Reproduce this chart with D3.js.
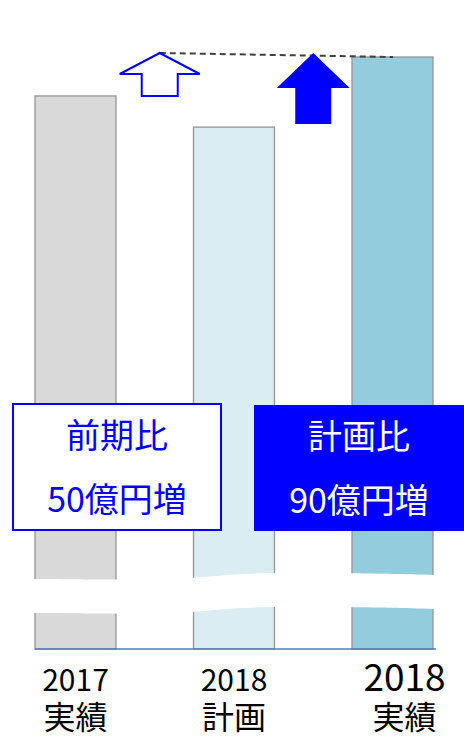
<!DOCTYPE html>
<html>
<head>
<meta charset="utf-8">
<script src="https://cdn.jsdelivr.net/npm/d3@7"></script>
<style>
  body { margin: 0; background: #fff; }
  svg { display: block; font-family: "Noto Sans CJK JP", "Noto Sans", sans-serif; }
</style>
</head>
<body>
<div id="chart"></div>
<script>
// values in 億円
const years = ['2017', '2018', '2018'];
const kinds = ['実績', '計画', '実績'];
const values = [710, 670, 760];
const barColors = ['#d9d9d9', '#daedf3', '#93cddd'];
const notes = [['前期比', '50億円増'], ['計画比', '90億円増']];
const breakValue = 90;

const width = 464, height = 738;
const margin = {top: 57, right: 31, bottom: 89, left: 35};

const svg = d3.select('#chart')
    .append('svg')
    .attr('width', width)
    .attr('height', height);

const x = d3.scaleBand()
    .domain(d3.range(values.length))
    .range([margin.left, width - margin.right])
    .paddingInner(0.489)
    .paddingOuter(0);

const y = d3.scaleLinear()
    .domain([0, d3.max(values)])
    .range([height - margin.bottom, margin.top]);

// bars
svg.selectAll('.bar')
    .data(values)
    .enter()
    .append('rect')
    .attr('class', 'bar')
    .attr('x', (d, i) => x(i))
    .attr('y', d => y(d))
    .attr('width', x.bandwidth())
    .attr('height', d => y(0) - y(d))
    .attr('fill', (d, i) => barColors[i])
    .attr('stroke', '#949494')
    .attr('stroke-width', 1.3);

// wavy axis break
const x0 = x(0) - 2, x1 = x(2) + x.bandwidth() + 3;
const by = y(breakValue);
const wave = [[x0, by], [x(0) + x.bandwidth(), by + 1], [x(1), by], [x(1) + 40, by - 5], [x(1) + x.bandwidth(), by - 6], [x(2), by - 6], [x1, by - 4]];
const waveLine = d3.line().curve(d3.curveBasis);
const waveTop = waveLine(wave);
const waveBottom = waveLine(wave.map(p => [p[0], p[1] + 34]).reverse());
svg.append('path')
    .attr('d', waveTop + 'L' + waveBottom.slice(1) + 'Z')
    .attr('fill', '#fff');

// baseline
svg.append('line')
    .attr('x1', x(0))
    .attr('x2', x(2) + x.bandwidth() + 3)
    .attr('y1', y(0))
    .attr('y2', y(0))
    .attr('stroke', '#4a7ebb')
    .attr('stroke-width', 1.5);

// arrows
function arrowPath(cx, yFrom, yTo, headW, headH, shaftW) {
    return d3.line()([
        [cx, yTo],
        [cx + headW / 2, yTo + headH],
        [cx + shaftW / 2, yTo + headH],
        [cx + shaftW / 2, yFrom],
        [cx - shaftW / 2, yFrom],
        [cx - shaftW / 2, yTo + headH],
        [cx - headW / 2, yTo + headH]
    ]) + 'Z';
}

const arrow1X = (x(0) + x.bandwidth() + x(1)) / 2 + 5;
const arrow2X = (x(1) + x.bandwidth() + x(2)) / 2;
const tipY = y(values[2]) - 4;

svg.append('line')
    .attr('x1', arrow1X)
    .attr('y1', tipY)
    .attr('x2', x(2) + 41)
    .attr('y2', y(values[2]))
    .attr('stroke', '#404040')
    .attr('stroke-width', 2)
    .attr('stroke-dasharray', '6,4');

svg.append('path')
    .attr('d', arrowPath(arrow1X, y(values[0]), tipY, 80, 21, 36))
    .attr('fill', '#fff')
    .attr('stroke', '#0000ff')
    .attr('stroke-width', 2);

svg.append('path')
    .attr('d', arrowPath(arrow2X, y(values[1]) - 3, tipY, 73, 35, 36))
    .attr('fill', '#0000ff');

// note boxes
const boxes = [
    {x: 13, y: 404, w: 208, h: 126, fill: '#fff', stroke: '#0000ff', text: '#0000ff'},
    {x: 254, y: 405, w: 212, h: 126, fill: '#0000ff', stroke: 'none', text: '#fff'}
];

boxes.forEach((b, i) => {
    svg.append('rect')
        .attr('x', b.x)
        .attr('y', b.y)
        .attr('width', b.w)
        .attr('height', b.h)
        .attr('fill', b.fill)
        .attr('stroke', b.stroke)
        .attr('stroke-width', 2);
    notes[i].forEach((t, j) => {
        svg.append('text')
            .attr('x', b.x + b.w / 2 - (i === 1 ? 1 : 0))
            .attr('y', b.y + 44 + j * 64)
            .attr('text-anchor', 'middle')
            .attr('font-size', 34)
            .attr('fill', b.text)
            .text(t);
    });
});

// category labels (two lines in one text)
years.forEach((yr, i) => {
    const cx = x(i) + x.bandwidth() / 2 + (i === 2 ? 12 : 0);
    const label = svg.append('text')
        .attr('text-anchor', 'middle')
        .attr('fill', '#000');
    label.append('tspan')
        .attr('x', cx)
        .attr('y', y(0) + 42)
        .attr('font-size', i === 2 ? 37 : 30)
        .text(yr);
    label.append('tspan')
        .attr('x', cx)
        .attr('y', y(0) + 80)
        .attr('font-size', 32)
        .text(kinds[i]);
});
</script>
</body>
</html>
